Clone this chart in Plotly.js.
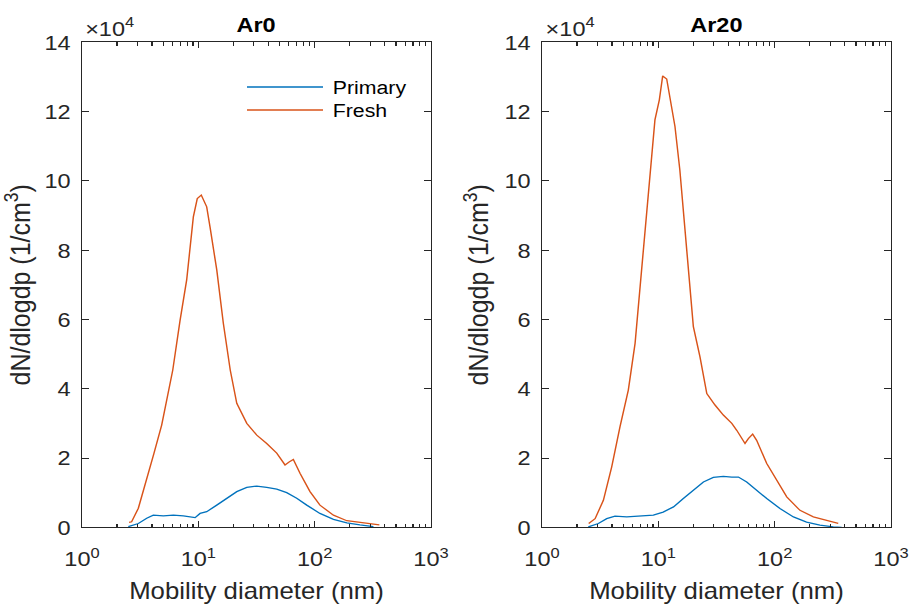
<!DOCTYPE html>
<html>
<head>
<meta charset="utf-8">
<script src="https://cdn.plot.ly/plotly-3.0.1.min.js"></script>
<style>
  html, body { margin: 0; padding: 0; background: #fff; overflow: hidden; }
  #chart { width: 814px; height: 607px; transform: scaleX(1.1204); transform-origin: 0 0; }
</style>
</head>
<body>
<div id="chart"></div>
<script>
// ---- Data (dN/dlogdp in units of 1e4 cm^-3, diameter in nm) ----
const ar0FreshD = [2.54,2.67,3.05,3.60,4.16,4.84,5.35,6.03,6.97,7.94,9.06,9.79,10.6,11.8,12.6,14.4,16.4,18.8,21.4,26.1,31.8,38.7,47.2,55.6,60.7,65.6,74.8,91.2,111,145,189,245,320,360];
const ar0FreshN = [0.14,0.16,0.55,1.37,2.14,2.95,3.67,4.54,5.98,7.14,8.96,9.49,9.59,9.25,8.67,7.43,5.89,4.54,3.58,3.00,2.66,2.42,2.14,1.80,1.89,1.96,1.56,1.03,0.64,0.35,0.19,0.14,0.09,0.07];

const ar0PrimD = [2.50,3.05,3.60,4.10,5.00,6.10,7.43,9.38,10.35,11.8,14.4,17.5,21.4,26.1,31.8,38.7,47.2,57.5,70.1,85.5,111,145,189,245,320];
const ar0PrimN = [0.02,0.11,0.26,0.35,0.33,0.35,0.33,0.28,0.40,0.45,0.64,0.84,1.03,1.15,1.19,1.15,1.10,1.00,0.84,0.64,0.40,0.23,0.13,0.07,0.02];

const ar20FreshD = [2.52,2.86,3.37,3.97,4.68,5.52,6.31,7.19,8.20,9.35,10.2,10.9,11.8,12.6,13.9,15.3,17.5,20.0,22.8,26.1,30.7,36.2,42.8,47.2,55.6,59.4,64.7,70.0,85.5,104,127,165,215,280,352];
const ar20FreshN = [0.11,0.25,0.78,1.74,2.90,3.96,5.31,7.52,9.64,11.76,12.34,13.03,12.94,12.44,11.57,10.32,8.10,5.79,4.92,3.86,3.53,3.24,3.00,2.80,2.42,2.56,2.69,2.51,1.84,1.36,0.88,0.49,0.30,0.20,0.11];

const ar20PrimD = [2.50,3.05,3.60,4.24,5.35,6.95,9.06,11.0,13.5,16.4,20.0,24.4,29.7,36.2,42.8,48.8,57.5,70.0,85.5,111,145,188,245,319,377];
const ar20PrimN = [0.01,0.11,0.25,0.32,0.30,0.33,0.35,0.44,0.59,0.83,1.07,1.31,1.44,1.47,1.45,1.45,1.31,1.07,0.83,0.54,0.30,0.15,0.06,0.01,0.00];

const panelTitles = ['Ar0', 'Ar20'];
const seriesNames = ['Primary', 'Fresh'];
const xMajorVals = [1, 10, 100, 1000];
const xMajorText = ['10<sup>0</sup>', '10<sup>1</sup>', '10<sup>2</sup>', '10<sup>3</sup>'];
const xMinorVals = [2,3,4,5,6,7,8,9,20,30,40,50,60,70,80,90,200,300,400,500,600,700,800,900];
const yTickVals = [0, 2, 4, 6, 8, 10, 12, 14];
const yTickText = ['0', '2', '4', '6', '8', '10', '12', '14'];

// ---- Styling ----
// The reference figure is slightly stretched horizontally; the plot is laid out
// at 814 px wide and scaled to 912 px with CSS so glyph proportions match.
const W = 814, H = 607, WREF = 912;
const BLUE = '#0072BD', ORANGE = '#D95319', AX = '#262626';
const FONT = 'Liberation Sans, Arial, Helvetica, sans-serif';
const px = v => v / WREF;         // reference pixel -> paper fraction
const py = v => (H - v) / H;

const line = (c) => ({ color: c, width: 1.3 });
const data = [
  { x: ar0PrimD,  y: ar0PrimN,  type: 'scatter', mode: 'lines', name: seriesNames[0], line: line(BLUE),   xaxis: 'x',  yaxis: 'y',  showlegend: false },
  { x: ar0FreshD, y: ar0FreshN, type: 'scatter', mode: 'lines', name: seriesNames[1], line: line(ORANGE), xaxis: 'x',  yaxis: 'y',  showlegend: false },
  { x: ar20PrimD, y: ar20PrimN, type: 'scatter', mode: 'lines', name: seriesNames[0], line: line(BLUE),   xaxis: 'x2', yaxis: 'y2', showlegend: false },
  { x: ar20FreshD,y: ar20FreshN,type: 'scatter', mode: 'lines', name: seriesNames[1], line: line(ORANGE), xaxis: 'x2', yaxis: 'y2', showlegend: false }
];

function xAxis(domain, anchor) {
  return {
    type: 'log', range: [0, 3], domain: domain, anchor: anchor,
    tickmode: 'array', tickvals: xMajorVals, ticktext: xMajorText,
    ticks: 'inside', ticklen: 6, tickwidth: 1, tickcolor: AX,
    showline: true, linecolor: AX, linewidth: 1, mirror: 'ticks',
    showgrid: false, zeroline: false,
    tickfont: { family: FONT, size: 21, color: AX },
    ticklabelstandoff: 13,
    minor: { tickvals: xMinorVals, ticks: 'inside', ticklen: 3.5, tickcolor: AX, tickwidth: 1, showgrid: false },
    title: { text: 'Mobility diameter (nm)', font: { family: FONT, size: 23, color: AX }, standoff: 13 }
  };
}
function yAxis(anchor) {
  return {
    range: [0, 14], domain: [py(527.3), py(42.3)], anchor: anchor,
    tickmode: 'array', tickvals: yTickVals, ticktext: yTickText,
    ticks: 'inside', ticklen: 6, tickwidth: 1, tickcolor: AX,
    showline: true, linecolor: AX, linewidth: 1, mirror: 'ticks',
    showgrid: false, zeroline: false,
    tickfont: { family: FONT, size: 21, color: AX },
    ticklabelstandoff: 5,
    title: { text: 'dN/dlogdp (1/cm<sup>3</sup>)', font: { family: FONT, size: 25, color: AX }, standoff: 6 }
  };
}

const xd1 = [px(82), px(431)];
const xd2 = [px(542), px(891)];

const annotations = [];
const shapes = [];
[xd1, xd2].forEach((d, i) => {
  annotations.push({
    xref: 'paper', yref: 'paper', x: (d[0] + d[1]) / 2, y: py(38), xanchor: 'center', yanchor: 'bottom',
    text: '<b>' + panelTitles[i] + '</b>', showarrow: false,
    font: { family: FONT, size: 21, color: '#000' }
  });
  annotations.push({
    xref: 'paper', yref: 'paper', x: d[0] + px(1), y: py(42), xanchor: 'left', yanchor: 'bottom',
    text: '\u00d710<sup>4</sup>', showarrow: false,
    font: { family: FONT, size: 21, color: AX }
  });
});

// Legend drawn like the original (no box, long line samples)
const legendRows = [{ name: seriesNames[0], color: BLUE, y: 87 }, { name: seriesNames[1], color: ORANGE, y: 110 }];
legendRows.forEach(r => {
  shapes.push({ type: 'line', xref: 'paper', yref: 'paper', x0: px(247), x1: px(323), y0: py(r.y), y1: py(r.y), line: { color: r.color, width: 1.3 } });
  annotations.push({ xref: 'paper', yref: 'paper', x: px(331), y: py(r.y), xanchor: 'left', yanchor: 'middle', text: r.name, showarrow: false, font: { family: FONT, size: 19, color: '#000' } });
});

const layout = {
  width: W, height: H,
  margin: { l: 0, r: 0, t: 0, b: 0 },
  paper_bgcolor: '#fff', plot_bgcolor: '#fff',
  showlegend: false,
  xaxis: xAxis(xd1, 'y'),
  yaxis: yAxis('x'),
  xaxis2: xAxis(xd2, 'y2'),
  yaxis2: yAxis('x2'),
  annotations: annotations,
  shapes: shapes
};

Plotly.newPlot('chart', data, layout, { displayModeBar: false, staticPlot: true });
</script>
</body>
</html>
